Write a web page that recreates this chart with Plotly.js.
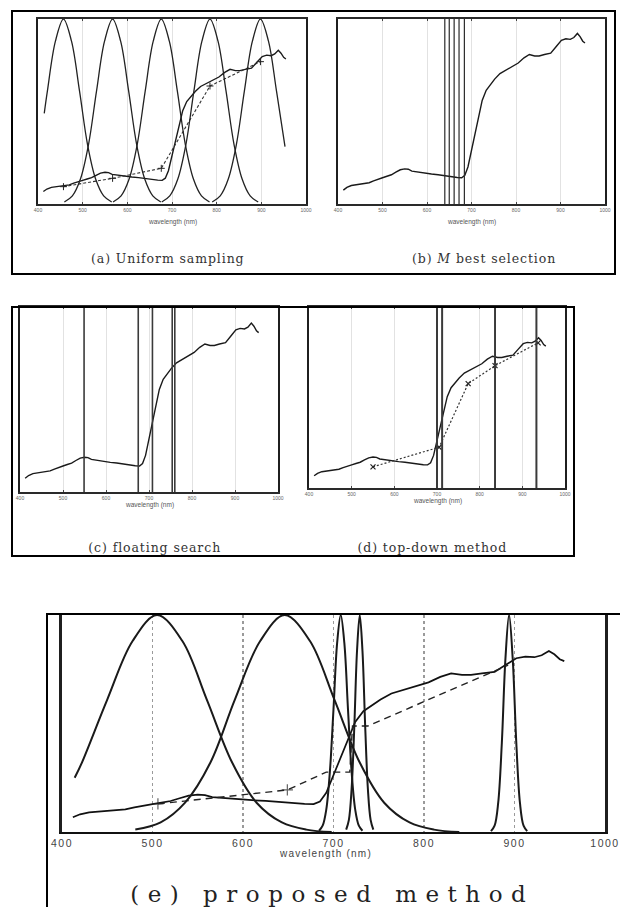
<!DOCTYPE html>
<html>
<head>
<meta charset="utf-8">
<script src="https://cdn.plot.ly/plotly-3.0.1.min.js"></script>
<style>
html, body { margin: 0; padding: 0; background: #fff; }
#chart { width: 620px; height: 907px; }
.x5tick text { letter-spacing: 1.5px; }
g.annotation[data-index="4"] text { letter-spacing: 8.5px; }
g.annotation[data-index="9"] text { letter-spacing: 1.2px; }
g.annotation[data-index="0"] text, g.annotation[data-index="1"] text,
g.annotation[data-index="2"] text, g.annotation[data-index="3"] text { letter-spacing: 0.9px; }
</style>
</head>
<body>
<div id="chart"></div>
<script>
// ---------- data ----------
const tickVals = [400, 500, 600, 700, 800, 900, 1000];
const tickLabels = ['400', '500', '600', '700', '800', '900', '1000'];

// reflectance spectrum (relative units)
const spectrumWl = [412, 420, 430, 440, 450, 460, 470, 480, 490, 500, 510, 520, 530, 540, 550, 558, 566, 580, 595, 610, 625, 640, 655, 668, 678, 685, 692, 700, 708, 716, 724, 733, 742, 752, 764, 778, 792, 805, 818, 830, 842, 852, 864, 878, 890, 902, 912, 922, 930, 938, 944, 950, 955];
const spectrumVal = [0.075, 0.09, 0.10, 0.104, 0.11, 0.113, 0.115, 0.125, 0.135, 0.142, 0.15, 0.158, 0.172, 0.185, 0.19, 0.188, 0.178, 0.172, 0.168, 0.162, 0.158, 0.152, 0.148, 0.143, 0.142, 0.155, 0.20, 0.29, 0.39, 0.48, 0.56, 0.615, 0.645, 0.675, 0.705, 0.725, 0.745, 0.762, 0.79, 0.808, 0.80, 0.80, 0.808, 0.815, 0.85, 0.885, 0.893, 0.89, 0.90, 0.922, 0.905, 0.88, 0.87];

// (a) uniform sampling filters
const filterA1Wl = [414, 421, 439, 457, 475, 493, 511, 529, 547, 565];
const filterA1Resp = [0.49, 0.61, 0.88, 1, 0.88, 0.61, 0.32, 0.135, 0.044, 0.011];
const filterA2Wl = [459, 477, 495, 513, 531, 549, 567, 585, 603, 621, 639, 657, 675];
const filterA2Resp = [0.011, 0.044, 0.135, 0.32, 0.61, 0.88, 1, 0.88, 0.61, 0.32, 0.135, 0.044, 0.011];
const filterA3Wl = [568, 586, 604, 622, 640, 658, 676, 694, 712, 730, 748, 766, 784];
const filterA3Resp = [0.011, 0.044, 0.135, 0.32, 0.61, 0.88, 1, 0.88, 0.61, 0.32, 0.135, 0.044, 0.011];
const filterA4Wl = [677, 695, 713, 731, 749, 767, 785, 803, 821, 839, 857, 875, 893];
const filterA4Resp = [0.011, 0.044, 0.135, 0.32, 0.61, 0.88, 1, 0.88, 0.61, 0.32, 0.135, 0.044, 0.011];
const filterA5Wl = [790, 808, 826, 844, 862, 880, 898, 916, 934, 953];
const filterA5Resp = [0.011, 0.044, 0.135, 0.32, 0.61, 0.88, 1, 0.88, 0.61, 0.31];
const reconAWl = [457, 567, 676, 785, 898];
const reconAVal = [0.104, 0.154, 0.214, 0.708, 0.854];

// (b) M best selection bands
const bandsB = [640, 650, 661, 672, 684];
// (c) floating search bands
const bandsC = [549, 675, 708, 754, 760];
// (d) top-down method bands + reconstruction
const bandsD = [700, 712, 836, 933];
const reconDWl = [550, 705, 773, 836, 937];
const reconDVal = [0.13, 0.25, 0.64, 0.75, 0.89];

// (e) proposed method filters
const filterE1Wl = [414, 422, 450, 478, 505, 533, 560, 588, 615, 643, 670, 698];
const filterE1Resp = [0.25, 0.32, 0.61, 0.88, 1, 0.88, 0.61, 0.32, 0.135, 0.044, 0.011, 0.0];
const filterE2Wl = [481, 509, 536, 564, 591, 619, 646, 674, 701, 729, 756, 784, 811, 839];
const filterE2Resp = [0.011, 0.044, 0.135, 0.32, 0.61, 0.88, 1, 0.88, 0.61, 0.32, 0.135, 0.044, 0.011, 0.0];
const filterE3Wl = [684, 688, 692, 696, 700, 704, 708, 712, 716, 720, 724, 728, 732];
const filterE3Resp = [0.006, 0.029, 0.103, 0.278, 0.566, 0.87, 1, 0.87, 0.566, 0.278, 0.103, 0.029, 0.006];
const filterE4Wl = [714, 717, 720, 723, 726, 729, 732, 735, 738, 741, 744];
const filterE4Resp = [0.011, 0.056, 0.198, 0.487, 0.835, 1, 0.835, 0.487, 0.198, 0.056, 0.011];
const filterE5Wl = [874, 878, 882, 886, 890, 894, 898, 902, 906, 910, 914];
const filterE5Resp = [0.004, 0.029, 0.135, 0.41, 0.80, 1, 0.80, 0.41, 0.135, 0.029, 0.004];
const reconEWl = [506, 649, 692, 718, 721, 738, 893];
const reconEVal = [0.143, 0.214, 0.305, 0.305, 0.54, 0.54, 0.85];
const reconEMarked = [true, true, false, false, false, false, false];

const captions = ['(a) Uniform sampling', '(b) <i>M</i> best selection', '(c) floating search', '(d) top-down method', '(e) proposed method'];
const axisTitle = 'wavelength (nm)';

// ---------- helpers ----------
const W = 620, H = 907;
const px = v => v / W;
const py = v => 1 - v / H;

function line(x, y, xa, ya, opts) {
  return Object.assign({
    type: 'scatter', mode: 'lines', x: x, y: y, xaxis: xa, yaxis: ya,
    line: { color: '#1a1a1a', width: 1.3 }, hoverinfo: 'skip'
  }, opts || {});
}

const traces = [];
// (a)
[[filterA1Wl, filterA1Resp], [filterA2Wl, filterA2Resp], [filterA3Wl, filterA3Resp], [filterA4Wl, filterA4Resp], [filterA5Wl, filterA5Resp]]
  .forEach(f => traces.push(line(f[0], f[1], 'x', 'y6', { line: { color: '#222', width: 1.3, shape: 'spline' } })));
traces.push(line(spectrumWl, spectrumVal, 'x', 'y', { line: { color: '#1a1a1a', width: 1.4 } }));
traces.push(line(reconAWl, reconAVal, 'x', 'y', { mode: 'lines+markers', line: { color: '#333', width: 1.1, dash: '3px,2px' }, marker: { symbol: 'cross-thin', size: 5, line: { color: '#222', width: 1 } } }));
// (b)
traces.push(line(spectrumWl, spectrumVal, 'x2', 'y2', { line: { color: '#1a1a1a', width: 1.4 } }));
// (c)
traces.push(line(spectrumWl, spectrumVal, 'x3', 'y3', { line: { color: '#1a1a1a', width: 1.4 } }));
// (d)
traces.push(line(spectrumWl, spectrumVal, 'x4', 'y4', { line: { color: '#1a1a1a', width: 1.4 } }));
traces.push(line(reconDWl, reconDVal, 'x4', 'y4', { mode: 'lines+markers', line: { color: '#333', width: 1.2, dash: '2px,2px' }, marker: { symbol: 'x-thin', size: 5, line: { color: '#222', width: 1.2 } } }));
// (e)
[[filterE1Wl, filterE1Resp], [filterE2Wl, filterE2Resp], [filterE3Wl, filterE3Resp], [filterE4Wl, filterE4Resp], [filterE5Wl, filterE5Resp]]
  .forEach(f => traces.push(line(f[0], f[1], 'x5', 'y7', { line: { color: '#1a1a1a', width: 2, shape: 'spline' } })));
traces.push(line(spectrumWl, spectrumVal, 'x5', 'y5', { line: { color: '#111', width: 1.7 } }));
traces.push(line(reconEWl, reconEVal, 'x5', 'y5', { mode: 'lines+markers', line: { color: '#222', width: 1.4, dash: '7px,5px' },
  marker: { symbol: 'cross-thin', size: reconEMarked.map(m => m ? 8 : 0), line: { color: '#222', width: 1.2 } } }));

// ---------- axes ----------
function xAxis(domain, anchor, small) {
  return {
    domain: domain, anchor: anchor, range: [400, 1000], tickmode: 'array', tickvals: tickVals, ticktext: tickLabels,
    showgrid: true, gridcolor: small ? '#e2e2e2' : '#9a9a9a', gridwidth: small ? 1 : 1.3, griddash: small ? 'solid' : 'dot',
    zeroline: false, showline: true, mirror: small ? 'ticks' : true, linecolor: small ? '#2a2a2a' : '#111', linewidth: 2,
    ticks: small ? 'inside' : '', ticklen: 2, tickcolor: '#444', ticklabeloverflow: 'allow',
    tickfont: small ? { family: 'Liberation Sans', size: 5, color: '#666' } : { family: 'Liberation Sans', size: 10.5, color: '#444' },
    fixedrange: true
  };
}
function yAxis(domain, anchor, range, lw) {
  return {
    domain: domain, anchor: anchor, range: range, showticklabels: false, showgrid: false, zeroline: false,
    showline: true, mirror: true, linecolor: '#1f1f1f', linewidth: lw || 2, ticks: '', fixedrange: true
  };
}
function overlayAxis(over, anchor) {
  return { overlaying: over, anchor: anchor, range: [0, 1], showticklabels: false, showgrid: false, zeroline: false, showline: false, fixedrange: true };
}

const dA = { x: [px(38), px(306)], y: [py(204), py(19)] };
const dB = { x: [px(338), px(605)], y: [py(204), py(19)] };
const dC = { x: [px(20), px(278)], y: [py(492), py(307)] };
const dD = { x: [px(309), px(565)], y: [py(488), py(307)] };
const dE = { x: [px(62), px(605)], y: [py(832), py(615)] };

const shapes = [];
function bandLines(bands, xa, ya, color, width) {
  bands.forEach(b => shapes.push({ type: 'line', xref: xa, yref: ya + ' domain', x0: b, x1: b, y0: 0, y1: 1, line: { color: color, width: width }, layer: 'above' }));
}
bandLines(bandsB, 'x2', 'y2', '#2a2a2a', 1.2);
bandLines(bandsC, 'x3', 'y3', '#3a3a3a', 1.6);
bandLines(bandsD, 'x4', 'y4', '#3a3a3a', 2);

function box(x0, y0, x1, y1) {
  shapes.push({ type: 'rect', xref: 'paper', yref: 'paper', x0: px(x0), x1: px(x1), y0: py(y1), y1: py(y0), line: { color: '#000', width: 2 }, fillcolor: 'rgba(0,0,0,0)', layer: 'above' });
}
box(12, 11, 615, 274);
box(12, 307, 574, 556);
box(47, 614, 640, 930);

const serif = 'DejaVu Serif';
function ann(text, x, y, size, family, color) {
  return { text: text, x: px(x), y: py(y), xref: 'paper', yref: 'paper', showarrow: false, xanchor: 'center', yanchor: 'middle',
    font: { family: family, size: size, color: color } };
}
const annotations = [
  ann(captions[0], 168, 258, 12.5, serif, '#333'),
  ann(captions[1], 484, 258, 12.5, serif, '#333'),
  ann(captions[2], 154, 547, 12.5, serif, '#333'),
  ann(captions[3], 432, 547, 12.5, serif, '#333'),
  ann(captions[4], 332, 894, 23, serif, '#222'),
  ann(axisTitle, 172, 222, 6.5, 'Liberation Sans', '#555'),
  ann(axisTitle, 471, 222, 6.5, 'Liberation Sans', '#555'),
  ann(axisTitle, 149, 505, 6.5, 'Liberation Sans', '#555'),
  ann(axisTitle, 437, 501, 6.5, 'Liberation Sans', '#555'),
  ann(axisTitle, 325, 853, 10, 'Liberation Sans', '#444')
];

const layout = {
  width: W, height: H, margin: { l: 0, r: 0, t: 0, b: 0, pad: 0 },
  paper_bgcolor: '#fff', plot_bgcolor: 'rgba(0,0,0,0)', showlegend: false,
  xaxis: xAxis(dA.x, 'y', true), yaxis: yAxis(dA.y, 'x', [0, 1.11]),
  xaxis2: xAxis(dB.x, 'y2', true), yaxis2: yAxis(dB.y, 'x2', [0, 1.0]),
  xaxis3: xAxis(dC.x, 'y3', true), yaxis3: yAxis(dC.y, 'x3', [0, 1.01]),
  xaxis4: xAxis(dD.x, 'y4', true), yaxis4: yAxis(dD.y, 'x4', [0, 1.11]),
  xaxis5: xAxis(dE.x, 'y5', false), yaxis5: yAxis(dE.y, 'x5', [0, 1.105], 3),
  yaxis6: overlayAxis('y', 'x'),
  yaxis7: overlayAxis('y5', 'x5'),
  shapes: shapes, annotations: annotations
};

Plotly.newPlot('chart', traces, layout, { staticPlot: true, displayModeBar: false });
</script>
</body>
</html>
